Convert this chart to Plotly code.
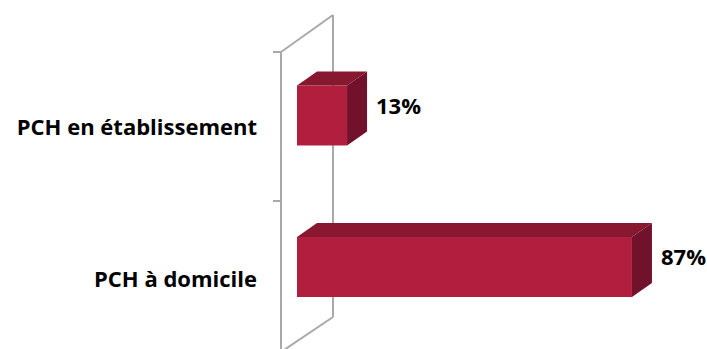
import plotly.graph_objects as go

# ---- data ----
categories = ["PCH en établissement", "PCH à domicile"]
values = [13, 87]
value_labels = ["13%", "87%"]

# ---- styles / geometry (pixels) ----
W, H = 707, 349
ML = 262                      # left margin (category labels live here)
X0_PX = 297                   # pixel of value 0
PX_PER_X = 3.85               # pixels per percent
Y0_PX = 267                   # pixel centre of bottom bar
PX_PER_Y = 151.5              # pixels per category step
LABEL_DROP = 12               # category labels sit lower than bar centres
BAR_H_PX = 60
DEPTH_DX, DEPTH_DY = 20, 14   # 3-D bar depth in pixels
FRONT_FACE = "#B21E3E"
TOP_FACE = "#881830"
SIDE_FACE = "#72112B"
WALL = "#A9A9A9"
FONT = "Open Sans"

def xv(px):
    return (px - X0_PX) / PX_PER_X

def yv(py):
    return (Y0_PX - py) / PX_PER_Y

x_range = [xv(ML), xv(W)]
y_range = [yv(H), yv(0)]
y2_range = [yv(H - LABEL_DROP), yv(-LABEL_DROP)]

n = len(categories)
pos = [n - 1 - i for i in range(n)]
bar_w = BAR_H_PX / PX_PER_Y
dxd = DEPTH_DX / PX_PER_X
dyd = DEPTH_DY / PX_PER_Y

fig = go.Figure()
fig.add_trace(go.Bar(
    x=values, y=pos, orientation="h", width=bar_w,
    marker=dict(color=FRONT_FACE, line=dict(width=0)),
    hoverinfo="skip", showlegend=False,
))
# invisible trace to carry the category axis
fig.add_trace(go.Scatter(
    x=[None] * n, y=pos, yaxis="y2", mode="markers",
    marker=dict(opacity=0), hoverinfo="skip", showlegend=False,
))

shapes = []
# back wall / floor outline
fx, bx = xv(281), xv(333)
wall_lines = [
    (fx, yv(52), fx, yv(H + 5)),
    (bx, yv(15), bx, yv(317)),
    (fx, yv(52), bx, yv(15)),
    (fx, yv(H + 3), bx, yv(317)),
    (xv(273), yv(52), fx, yv(52)),
    (xv(273), yv(201), fx, yv(201)),
]
for x0, y0, x1, y1 in wall_lines:
    shapes.append(dict(type="line", xref="x", yref="y", x0=x0, y0=y0, x1=x1, y1=y1,
                       line=dict(color=WALL, width=2), layer="below"))

# 3-D faces of bars, derived from the values
for v, p in zip(values, pos):
    top = p + bar_w / 2
    bot = p - bar_w / 2
    top_path = f"M 0,{top} L {dxd},{top + dyd} L {v + dxd},{top + dyd} L {v},{top} Z"
    side_path = f"M {v},{top} L {v + dxd},{top + dyd} L {v + dxd},{bot + dyd} L {v},{bot} Z"
    shapes.append(dict(type="path", xref="x", yref="y", path=top_path,
                       fillcolor=TOP_FACE, line=dict(width=0), layer="above"))
    shapes.append(dict(type="path", xref="x", yref="y", path=side_path,
                       fillcolor=SIDE_FACE, line=dict(width=0), layer="above"))

annotations = []
for v, p, t in zip(values, pos, value_labels):
    annotations.append(dict(
        x=v + dxd, y=p, xref="x", yref="y", text=t, showarrow=False,
        xanchor="left", yanchor="middle", xshift=7, yshift=11,
        font=dict(family=FONT, size=22, color="#000000", weight="bold"),
    ))

fig.update_layout(
    width=W, height=H,
    margin=dict(l=ML, r=0, t=0, b=0, pad=0),
    paper_bgcolor="white", plot_bgcolor="white",
    xaxis=dict(range=x_range, visible=False, fixedrange=True, automargin=False),
    yaxis=dict(range=y_range, showticklabels=False, showgrid=False, automargin=False,
               zeroline=False, showline=False, ticks=""),
    yaxis2=dict(range=y2_range, overlaying="y", side="left", automargin=False,
                tickmode="array", tickvals=pos, ticktext=categories,
                showgrid=False, zeroline=False, showline=False, ticks="",
                ticklabelstandoff=4,
                tickfont=dict(family=FONT, size=22, color="#000000", weight="bold")),
    shapes=shapes,
    annotations=annotations,
    showlegend=False,
)

fig.write_html(
    "out.html",
    config={"displayModeBar": False},
    post_script="document.body.style.margin='0';document.body.style.overflow='hidden';",
)
